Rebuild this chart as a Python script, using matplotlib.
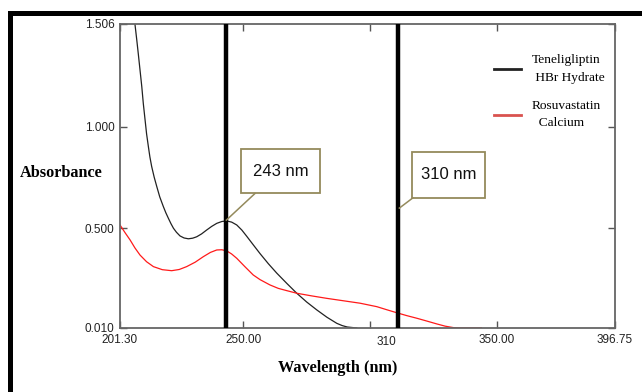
import matplotlib.pyplot as plt
from matplotlib.patches import Rectangle

# spectra (nm, absorbance)
wl_tene = [207.2, 207.9, 208.5, 209.2, 209.9, 210.5, 211.2, 211.8, 212.5, 213.1, 213.8,
           214.8, 215.8, 217.0, 218.4, 219.4, 220.4, 221.4, 222.4, 223.6, 225.0, 226.6,
           228.3, 230.0, 231.6, 233.5, 235.5, 237.5, 239.5, 241.5, 243.4, 245.4, 247.4,
           249.4, 251.3, 254.0, 256.6, 259.9, 263.2, 267.2, 271.1, 275.0, 279.0, 283.0,
           286.9, 289.0, 291.0, 294.8]
abs_tene = [1.506, 1.430, 1.362, 1.280, 1.198, 1.115, 1.034, 0.965, 0.903, 0.852, 0.805,
            0.752, 0.707, 0.655, 0.608, 0.577, 0.550, 0.524, 0.501, 0.481, 0.463, 0.453,
            0.449, 0.452, 0.459, 0.473, 0.492, 0.510, 0.525, 0.534, 0.537, 0.531, 0.517,
            0.492, 0.462, 0.418, 0.376, 0.326, 0.280, 0.229, 0.181, 0.138, 0.099, 0.063,
            0.033, 0.022, 0.015, 0.010]

wl_rosu = [201.3, 203.3, 205.3, 207.2, 209.2, 211.8, 214.5, 218.0, 221.7, 224.7, 227.6,
           231.0, 234.2, 237.0, 239.5, 241.5, 243.4, 245.4, 247.4, 250.6, 253.9, 256.6,
           260.5, 263.8, 267.1, 271.1, 277.0, 282.9, 289.5, 296.1, 302.7, 306.6, 310.6,
           314.5, 318.5, 322.5, 326.4, 329.7, 332.9, 336.0, 344.0]
abs_rosu = [0.517, 0.479, 0.443, 0.404, 0.369, 0.336, 0.312, 0.297, 0.292, 0.298, 0.312,
            0.334, 0.361, 0.382, 0.394, 0.395, 0.390, 0.374, 0.353, 0.312, 0.271, 0.248,
            0.222, 0.205, 0.194, 0.181, 0.168, 0.156, 0.144, 0.132, 0.115, 0.100, 0.085,
            0.071, 0.058, 0.044, 0.030, 0.019, 0.012, 0.010, 0.010]

marker_wl = [243, 311]
box_text = ["243 nm", "310 nm"]
# box corners (nm, abs) and pointer ends
box_x = [(249.1, 280.3), (316.5, 345.4)]
box_y = [(0.672, 0.889), (0.648, 0.878)]
ptr_from = [(254.6, 0.672), (316.9, 0.650)]
ptr_to = [(243.3, 0.541), (311.6, 0.600)]

xticks = [201.3, 250, 300, 350, 396.75]
xtick_labels = ["201.30", "250.00", "", "350.00", "396.75"]
yticks = [0.010, 0.500, 1.000, 1.506]
ytick_labels = ["0.010", "0.500", "1.000", "1.506"]

fig = plt.figure(figsize=(6.42, 3.92), dpi=100)
ax = fig.add_axes([120 / 642, 1 - 328 / 392, 495 / 642, 304 / 392])

l1, = ax.plot(wl_tene, abs_tene, color="#222222", lw=0.9, solid_joinstyle="round")
l2, = ax.plot(wl_rosu, abs_rosu, color="#ff1a1a", lw=0.9, solid_joinstyle="round")

for w in marker_wl:
    ax.axvline(w, color="black", lw=3.2, zorder=4)

box_col = "#948a5c"
for t, (x0, x1), (y0, y1), p0, p1 in zip(box_text, box_x, box_y, ptr_from, ptr_to):
    ax.add_patch(Rectangle((x0, y0), x1 - x0, y1 - y0, fc="white", ec=box_col, lw=1.3, zorder=5))
    ax.text((x0 + x1) / 2, (y0 + y1) / 2, t, ha="center", va="center",
            family="Liberation Sans", fontsize=12, color="#111111", zorder=6)
    ax.plot([p0[0], p1[0]], [p0[1], p1[1]], color=box_col, lw=1.1, zorder=5)

ax.set_xlim(201.3, 396.75)
ax.set_ylim(0.010, 1.506)
ax.set_xticks(xticks)
ax.set_xticklabels(xtick_labels)
ax.set_yticks(yticks)
ax.set_yticklabels(ytick_labels)
ax.tick_params(direction="in", top=True, right=True, length=5, width=1, color="#555555",
               labelsize=8.5, labelcolor="#222222", pad=4)
for lab in ax.get_xticklabels() + ax.get_yticklabels():
    lab.set_family("Liberation Sans")
ax.text(306.6, -0.045, "310", transform=ax.get_xaxis_transform(), ha="center", va="center",
        family="Liberation Sans", fontsize=8.5, color="#222222")
for s in ax.spines.values():
    s.set_color("#666666")
    s.set_linewidth(1.3)

leg = ax.legend([l1, l2], ["Teneligliptin\n HBr Hydrate", "Rosuvastatin\n  Calcium"],
                loc="upper left", bbox_to_anchor=(0.731, 0.940), frameon=False,
                handlelength=2.05, handletextpad=0.8, labelspacing=1.23,
                prop={"family": "Liberation Serif", "size": 9.6})
for h in leg.get_lines():
    h.set_linewidth(2)
leg.get_lines()[1].set_color("#d9534f")
for t in leg.get_texts():
    t.set_linespacing(1.6)

fig.text(20 / 642, 1 - 173 / 392, "Absorbance", family="Liberation Serif", weight="bold",
         fontsize=11.7, va="center", ha="left")
fig.text(338 / 642, 1 - 368 / 392, "Wavelength (nm)", family="Liberation Serif", weight="bold",
         fontsize=11.7, va="center", ha="center")

# outer frame of the figure image
fig.patches.append(Rectangle((10.5 / 642, -0.2), 1.2, 1.2 - 12.5 / 392, transform=fig.transFigure,
                             fill=False, ec="black", lw=3.6))

fig.savefig("out.png", dpi=100)
